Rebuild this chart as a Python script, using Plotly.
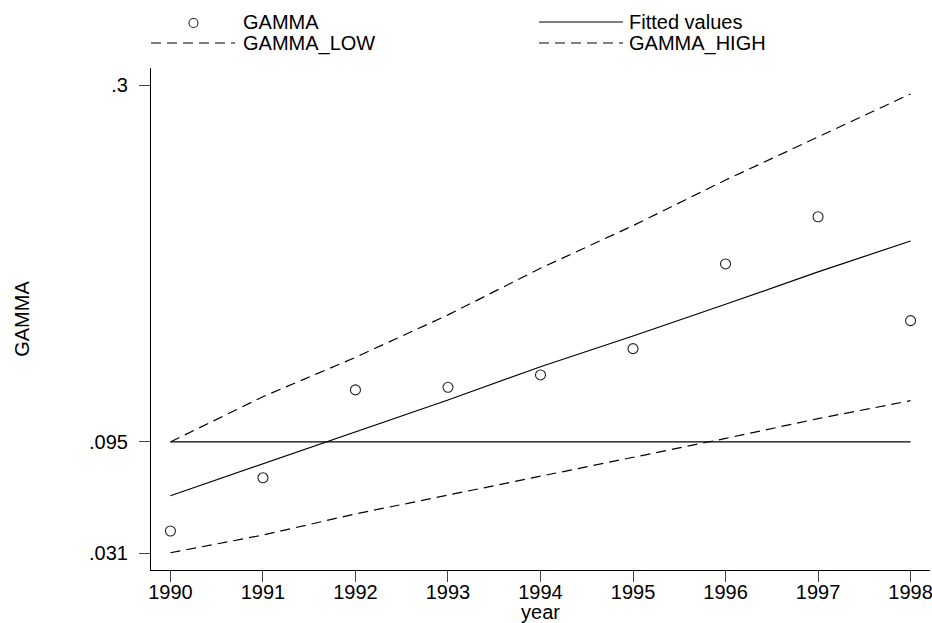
import plotly.graph_objects as go

years = [1990, 1991, 1992, 1993, 1994, 1995, 1996, 1997, 1998]
gamma = [0.0438, 0.0744, 0.1249, 0.1264, 0.1335, 0.1486, 0.1973, 0.2244, 0.1647]
fitted = [0.0641, 0.0823, 0.1009, 0.1191, 0.1382, 0.1559, 0.1741, 0.1927, 0.2105]
gamma_low = [0.0313, 0.0415, 0.0536, 0.0645, 0.0750, 0.0862, 0.0970, 0.1084, 0.1187]
gamma_high = [0.0950, 0.1210, 0.1436, 0.1680, 0.1948, 0.2193, 0.2455, 0.2704, 0.2950]
ref_line = [0.095, 0.095, 0.095, 0.095, 0.095, 0.095, 0.095, 0.095, 0.095]

y_tickvals = [0.031, 0.095, 0.3]
y_ticktext = [".031", ".095", ".3"]
x_tickvals = years
legend_labels = ["GAMMA", "Fitted values", "GAMMA_LOW", "GAMMA_HIGH"]

FONT = "Liberation Sans, Arial, sans-serif"
W, H = 932, 623
L, R, T, B = 151, 2, 68, 53
LW = 1.2
DASH = "10px,6px"

fig = go.Figure()
fig.add_trace(go.Scatter(x=years, y=ref_line, mode="lines",
                         line=dict(color="black", width=LW), showlegend=False))
fig.add_trace(go.Scatter(x=years, y=gamma_low, mode="lines", name="GAMMA_LOW",
                         line=dict(color="black", width=LW, dash=DASH), showlegend=False))
fig.add_trace(go.Scatter(x=years, y=gamma_high, mode="lines", name="GAMMA_HIGH",
                         line=dict(color="black", width=LW, dash=DASH), showlegend=False))
fig.add_trace(go.Scatter(x=years, y=fitted, mode="lines", name="Fitted values",
                         line=dict(color="black", width=LW), showlegend=False))
fig.add_trace(go.Scatter(x=years, y=gamma, mode="markers", name="GAMMA",
                         marker=dict(symbol="circle-open", size=10, color="#222",
                                     line=dict(width=1.1, color="#222")),
                         showlegend=False))

# manual legend (Stata style) in pixel-derived paper coords
pw, ph = W - L - R, H - T - B
def px(x):
    return (x - L) / pw
def py(y):
    return (H - B - y) / ph

shapes = []
annotations = []
shapes.append(dict(type="circle", xref="paper", yref="paper", xsizemode="pixel", ysizemode="pixel",
                   xanchor=px(193.5), yanchor=py(23), x0=-4.5, x1=4.5, y0=-4.5, y1=4.5,
                   line=dict(color="#222", width=1.1)))
shapes.append(dict(type="line", xref="paper", yref="paper", x0=px(539), x1=px(623), y0=py(22), y1=py(22),
                   line=dict(color="black", width=LW)))
shapes.append(dict(type="line", xref="paper", yref="paper", x0=px(151), x1=px(235), y0=py(43), y1=py(43),
                   line=dict(color="black", width=LW, dash=DASH)))
shapes.append(dict(type="line", xref="paper", yref="paper", x0=px(539), x1=px(623), y0=py(43), y1=py(43),
                   line=dict(color="black", width=LW, dash=DASH)))
pos = [(241, 22), (627, 22), (241, 43), (627, 43)]
for lab, (xx, yy) in zip(legend_labels, pos):
    annotations.append(dict(text=lab, xref="paper", yref="paper", x=px(xx), y=py(yy),
                            xanchor="left", yanchor="middle", showarrow=False,
                            font=dict(family=FONT, size=20, color="black")))

fig.update_layout(
    width=W, height=H,
    margin=dict(l=L, r=R, t=T, b=B, autoexpand=False),
    paper_bgcolor="white", plot_bgcolor="white",
    font=dict(family=FONT, size=20, color="black"),
    showlegend=False,
    shapes=shapes, annotations=annotations,
    xaxis=dict(range=[1989.79, 1998.21], tickvals=x_tickvals, showgrid=False, zeroline=False,
               showline=True, linecolor="black", linewidth=1.2,
               ticks="outside", ticklen=11, tickcolor="#444", tickwidth=1,
               ticklabeloverflow="allow", ticklabelstandoff=-7,
               tickfont=dict(family=FONT, size=20),
               title=dict(text="year", font=dict(family=FONT, size=20), standoff=3)),
    yaxis=dict(range=[0.0214, 0.3099], tickvals=y_tickvals, ticktext=y_ticktext,
               showgrid=False, zeroline=False,
               showline=True, linecolor="black", linewidth=1.2,
               ticks="outside", ticklen=11, tickcolor="#444", tickwidth=1,
               ticklabelstandoff=7,
               tickfont=dict(family=FONT, size=20),
               title=dict(text="GAMMA", font=dict(family=FONT, size=20), standoff=53)),
)
fig.write_html("out.html", config={"displayModeBar": False},
               post_script="document.body.style.margin='0';document.body.style.overflow='hidden';")
